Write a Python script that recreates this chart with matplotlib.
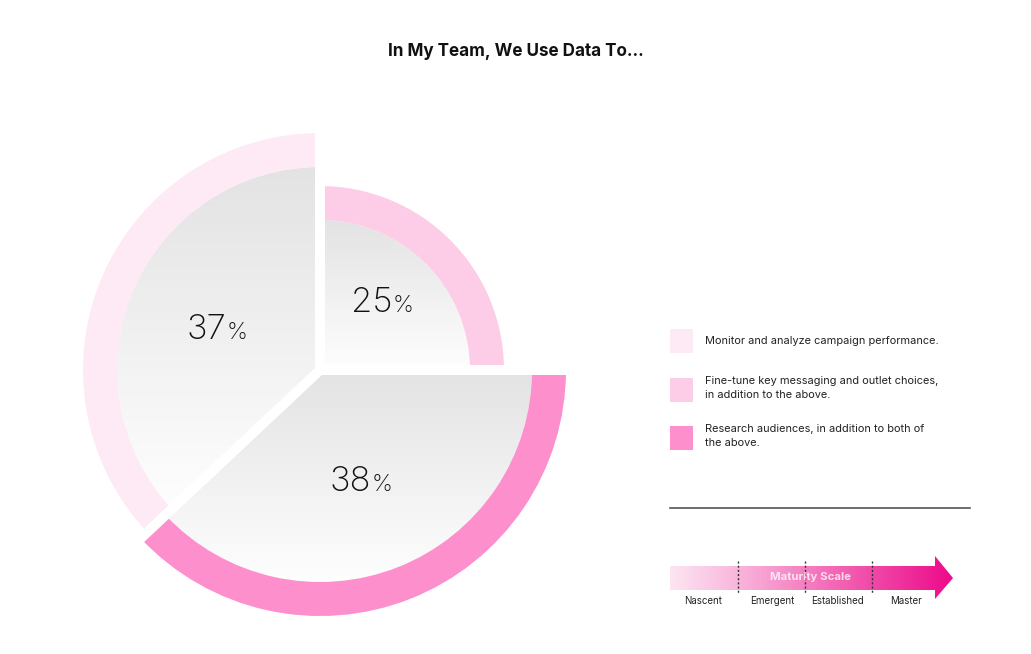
import numpy as np
import matplotlib
matplotlib.use("Agg")
import matplotlib.pyplot as plt
from matplotlib.patches import Wedge, Polygon, Rectangle
from matplotlib.colors import LinearSegmentedColormap

# ---- data ----
title = "In My Team, We Use Data To..."
values = [25, 38, 37]
ring_colors = ["#fdcde7", "#fc8fcc", "#fdeaf4"]
legend_labels = [
    "Monitor and analyze campaign performance.",
    "Fine-tune key messaging and outlet choices,\nin addition to the above.",
    "Research audiences, in addition to both of\nthe above.",
]
legend_colors = ["#fdeaf4", "#fdcde7", "#fc8fcc"]
scale_labels = ["Nascent", "Emergent", "Established", "Master"]

W, H = 1031, 654
fig = plt.figure(figsize=(W / 100, H / 100), dpi=100)
ax = fig.add_axes([0, 0, 1, 1])
ax.set_xlim(0, W)
ax.set_ylim(0, H)
ax.axis("off")

def Y(yp):
    return H - yp

FONT = ["Inter", "DejaVu Sans"]

# ---- pie ----
cx, cy = 320, Y(370)
outer_r = [184, 246, 237]
ring_w = 34
start = 90.0
total = sum(values)
bounds = []
cmap = LinearSegmentedColormap.from_list("g", ["#fefefe", "#e3e3e3"])
for i, v in enumerate(values):
    sweep = v / total * 360.0
    t2 = start
    t1 = start - sweep
    ro = outer_r[i]
    ri = ro - ring_w
    ax.add_patch(Wedge((cx, cy), ro, t1, t2, width=ring_w, facecolor=ring_colors[i],
                       edgecolor="none", zorder=2))
    inner = Wedge((cx, cy), ri, t1, t2, facecolor="none", edgecolor="none", zorder=2)
    ax.add_patch(inner)
    angs = np.linspace(np.radians(t1), np.radians(t2), 200)
    ys = np.concatenate([[cy], cy + ri * np.sin(angs)])
    top, bot = ys.max(), ys.min()
    grad = np.linspace(0, 1, 256).reshape(-1, 1)
    im = ax.imshow(grad, cmap=cmap, origin="lower", aspect="auto",
                   extent=[cx - ri, cx + ri, bot, top], zorder=1.5)
    im.set_clip_path(inner)
    bounds.append(t1)
    start = t1

# white gaps between slices
for ang in [90.0] + bounds[:-1]:
    a = np.radians(ang)
    ax.plot([cx, cx + 270 * np.cos(a)], [cy, cy + 270 * np.sin(a)], color="white",
            lw=7.2, solid_capstyle="butt", zorder=3)

# percentage labels
label_pos = [(392, 303), (371, 482), (226, 330)]
for (lx, ly), v in zip(label_pos, values):
    ax.text(lx, Y(ly), f"{v}", fontsize=25, family=FONT, fontweight="light",
            ha="right", va="center", color="#111111", zorder=4)
    ax.text(lx + 1, Y(ly) - 3, "%", fontsize=17, family=FONT, fontweight="light",
            ha="left", va="center", color="#111111", zorder=4)

# ---- title ----
ax.text(516, Y(52), title, fontsize=12.3, fontweight="bold", family=FONT,
        ha="center", va="center", color="#111111")

# ---- legend ----
leg_y = [341, 390, 438]
for yy, lab, col in zip(leg_y, legend_labels, legend_colors):
    ax.add_patch(Rectangle((670, Y(yy) - 12), 23, 24, facecolor=col, edgecolor="none"))
    if "\n" in lab:
        ax.text(705, Y(yy - 14), lab, fontsize=7.9, family=FONT, ha="left", va="top",
                color="#222222", linespacing=1.45)
    else:
        ax.text(705, Y(yy), lab, fontsize=7.9, family=FONT, ha="left", va="center",
                color="#222222")

# divider line
ax.plot([670, 970], [Y(508), Y(508)], color="#555555", lw=1.2)

# ---- maturity scale arrow ----
arrow = Polygon([(670, Y(566)), (935, Y(566)), (935, Y(556)), (953, Y(578)),
                 (935, Y(599)), (935, Y(590)), (670, Y(590))], closed=True,
                facecolor="none", edgecolor="none")
ax.add_patch(arrow)
acmap = LinearSegmentedColormap.from_list(
    "a", [(0.0, "#fde6f2"), (0.24, "#f9b5dc"), (0.48, "#f47fc1"),
          (0.71, "#f04aa8"), (1.0, "#ee0a8a")])
agrad = np.linspace(0, 1, 256).reshape(1, -1)
aim = ax.imshow(agrad, cmap=acmap, aspect="auto", extent=[670, 953, Y(599), Y(556)], zorder=2)
aim.set_clip_path(arrow)
for xx in [738, 805, 872]:
    ax.plot([xx, xx], [Y(561), Y(593)], color="#333333", lw=1, ls=(0, (1.5, 1.5)), zorder=3)
ax.text(810, Y(577), "Maturity Scale", fontsize=8.2, fontweight="bold", family=FONT,
        ha="center", va="center", color="white", alpha=0.75, zorder=4)
for xx, lab in zip([703, 772, 838, 906], scale_labels):
    ax.text(xx, Y(601), lab, fontsize=7, family=FONT, ha="center", va="center",
            color="#222222")

fig.savefig("out.png", dpi=100)
